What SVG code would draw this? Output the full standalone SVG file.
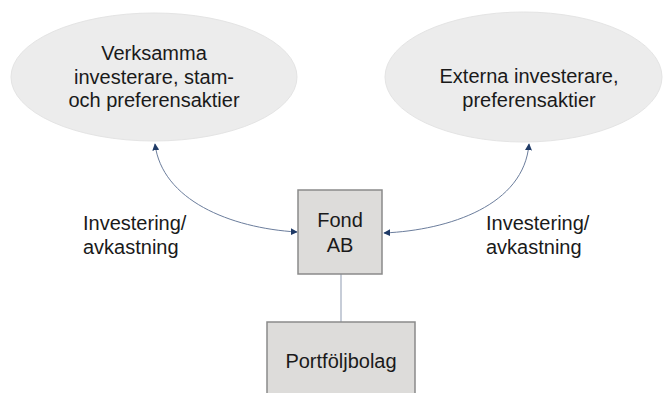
<svg xmlns="http://www.w3.org/2000/svg" width="664" height="393" viewBox="0 0 664 393">
  <style>
    .oval { fill: #ececec; stroke: #e4e4e4; stroke-width: 1; }
    .box { fill: #dddcda; stroke: #8a8a8a; stroke-width: 1.5; }
    .lbl { font-family: "Liberation Sans", Arial, sans-serif; font-size: 20px; fill: #1a1a1a; }
    .mid { text-anchor: middle; }
    .flow { fill: none; stroke: #6b7d9c; stroke-width: 1; }
    .link { fill: none; stroke: #b4bccb; stroke-width: 1.5; }
  </style>
  <defs>
    <marker id="tip" viewBox="0 0 10 10" refX="9" refY="5" markerWidth="7" markerHeight="7" markerUnits="userSpaceOnUse" orient="auto-start-reverse">
      <path d="M0,0 L10,5 L0,10 Z" fill="#1f3a66"/>
    </marker>
  </defs>

  <rect width="664" height="393" fill="#ffffff"/>

  <!-- connectors -->
  <g id="connectors">
    <path class="flow" d="M297,232 C230,228 162,200 155,144" marker-start="url(#tip)" marker-end="url(#tip)"/>
    <path class="flow" d="M384,233 C450,230 524,205 529,144" marker-start="url(#tip)" marker-end="url(#tip)"/>
    <line class="link" x1="341" y1="274" x2="341" y2="322"/>
  </g>

  <!-- investors (left) -->
  <g id="verksamma">
    <ellipse class="oval" cx="154" cy="77" rx="143" ry="64"/>
    <text class="lbl mid" x="154" y="60">Verksamma</text>
    <text class="lbl mid" x="154" y="84">investerare, stam-</text>
    <text class="lbl mid" x="154" y="107">och preferensaktier</text>
  </g>

  <!-- investors (right) -->
  <g id="externa">
    <ellipse class="oval" cx="523.5" cy="77" rx="138.5" ry="65"/>
    <text class="lbl mid" x="529" y="83">Externa investerare,</text>
    <text class="lbl mid" x="529" y="107">preferensaktier</text>
  </g>

  <!-- fund -->
  <g id="fond">
    <rect class="box" x="298" y="190" width="84" height="84"/>
    <text class="lbl mid" x="340" y="227">Fond</text>
    <text class="lbl mid" x="340" y="252">AB</text>
  </g>

  <!-- portfolio companies -->
  <g id="portfolj">
    <rect class="box" x="267" y="322" width="148" height="80"/>
    <text class="lbl mid" x="341" y="368">Portföljbolag</text>
  </g>

  <!-- edge labels -->
  <g id="label-left">
    <text class="lbl" x="83" y="230">Investering/</text>
    <text class="lbl" x="83" y="254">avkastning</text>
  </g>
  <g id="label-right">
    <text class="lbl" x="486" y="230">Investering/</text>
    <text class="lbl" x="486" y="254">avkastning</text>
  </g>
</svg>
